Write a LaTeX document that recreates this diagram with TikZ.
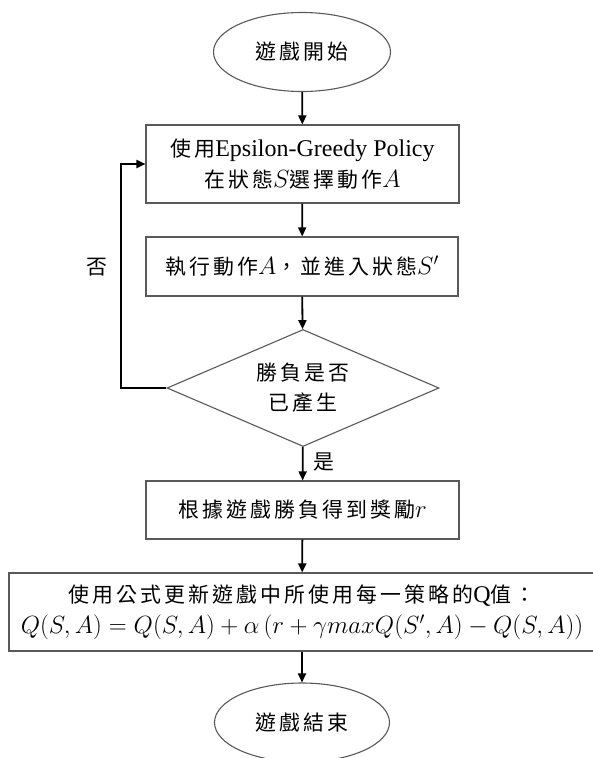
\documentclass[tikz,border=0pt]{standalone}
\usepackage{fontspec}
\setmainfont{Liberation Serif}
\newfontfamily\cjk[Scale=0.87,LetterSpace=15]{Noto Sans CJK TC}
\usetikzlibrary{shapes.geometric,arrows.meta}
\tikzset{
  box/.style={draw=black!65,line width=1.1pt,rectangle,inner sep=0pt,align=center,font=\fontsize{24}{31}\selectfont},
  oval/.style={draw=black!65,line width=1.1pt,ellipse,inner sep=0pt,minimum width=177,minimum height=79,font=\fontsize{24}{31}\selectfont},
  decide/.style={draw=black!65,line width=1.1pt,diamond,aspect=2.32,inner sep=0pt,minimum width=272,minimum height=117,align=center,font=\fontsize{24}{30}\selectfont},
  arr/.style={line width=1.8pt,-{Triangle[length=9pt,width=8pt]}},
  lbl/.style={inner sep=0pt,font=\fontsize{24}{25}\selectfont}
}
\begin{document}
\begin{tikzpicture}[x=1pt,y=-1pt]
\useasboundingbox (0,0) rectangle (592,758);
\fill[white] (0,0) rectangle (592,758);
\node[oval] (start) at (302,52) {\cjk 遊戲開始};
\node[box,minimum width=313,minimum height=78] (b1) at (302.5,164)
  {{\cjk 使用}Epsilon-Greedy Policy\\{\cjk 在狀態}$S${\cjk 選擇動作}$A$};
\node[box,minimum width=312,minimum height=59] (b2) at (302,266.5)
  {{\cjk 執行動作}$A${\cjk ，並進入狀態}$S'$};
\node[decide] (d) at (303,388) {\cjk 勝負是否\\\cjk 已產生};
\node[box,minimum width=313,minimum height=58] (b3) at (302.5,510)
  {{\cjk 根據遊戲勝負得到獎勵}$r$};
\node[box,minimum width=586,minimum height=78] (b4) at (302,612)
  {{\cjk 使用公式更新遊戲中所使用每一策略的}Q{\cjk 值：}\\
   {\fontsize{23.2}{31}\selectfont$Q(S,A)=Q(S,A)+\alpha\left(r+\gamma maxQ(S',A)-Q(S,A)\right)$}};
\node[oval,minimum width=175] (end) at (302,722.5) {\cjk 遊戲結束};
\coordinate (lp) at (121,388);
\node[lbl] (no) at (97,267) {\cjk 否};
\node[lbl] (yes) at (324,462) {\cjk 是};
\draw[arr] (start) -- (b1);
\draw[arr] (b1) -- (b2);
\draw[arr] (b2) -- (d);
\draw[arr] (d) -- (b3);
\draw[arr] (b3) -- (b4);
\draw[arr] (b4) -- (end);
\draw[arr] (d.west) -- (lp) |- (b1.west);
\end{tikzpicture}
\end{document}
